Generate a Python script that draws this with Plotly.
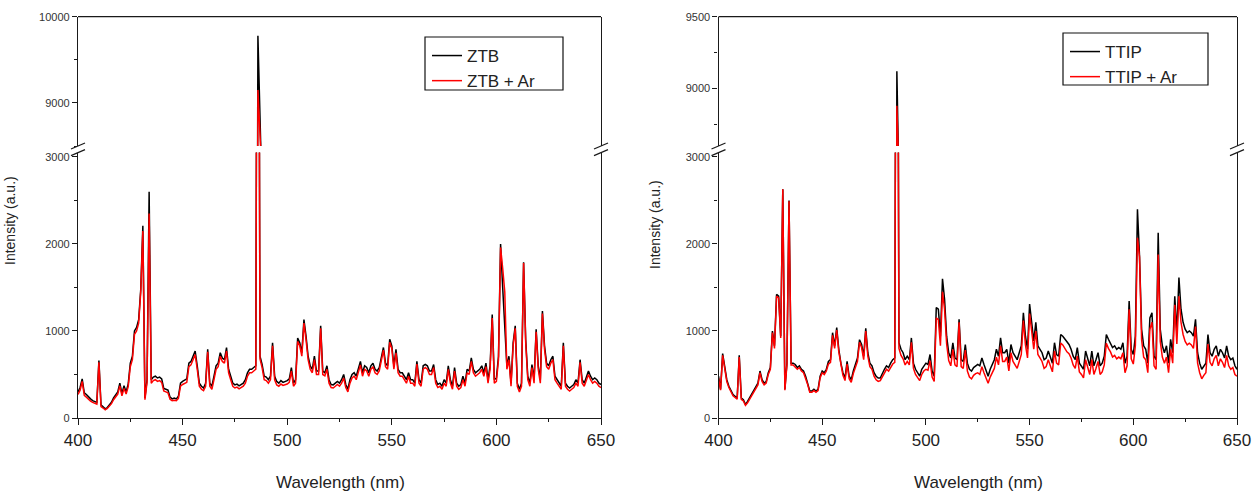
import plotly.graph_objects as go

W, H = 1257, 496


def px(x):
    return x / W


def py(y):
    return 1 - y / H


# ---------------- data ----------------
wavelength = list(range(400, 651))

ztb = [
    300, 350, 450, 290, 270, 240, 220, 200, 190, 180,
    660, 150, 130, 105, 120, 150, 180, 230, 260, 300,
    400, 280, 370, 300, 390, 630, 710, 1000, 1040, 1130,
    1480, 2210, 230, 440, 2600, 440, 470, 480, 460, 470,
    450, 340, 330, 320, 240, 220, 230, 220, 250, 400,
    420, 440, 450, 630, 650, 710, 770, 600, 400, 365,
    345, 400, 790, 400, 365, 480, 600, 630, 750, 690,
    670, 810, 560, 480, 400, 380, 390, 370, 390, 400,
    440, 520, 560, 560, 580, 600, 9780, 710, 615, 480,
    470, 440, 480, 865, 480, 420, 400, 430, 410, 420,
    430, 450, 580, 400, 440, 920, 865, 750, 1130, 940,
    710, 600, 560, 710, 540, 540, 1060, 540, 520, 600,
    440, 385, 380, 400, 420, 400, 440, 500, 385, 330,
    440, 500, 520, 480, 560, 650, 520, 600, 580, 520,
    600, 630, 560, 540, 580, 710, 810, 630, 600, 905,
    830, 600, 790, 560, 520, 520, 480, 440, 520, 440,
    440, 400, 650, 440, 400, 600, 615, 600, 540, 540,
    615, 440, 385, 400, 365, 440, 400, 600, 440, 365,
    580, 400, 365, 385, 480, 400, 560, 540, 690, 560,
    520, 540, 560, 600, 520, 630, 440, 600, 1190, 440,
    460, 710, 2000, 1500, 1000, 600, 710, 400, 865, 1060,
    400, 330, 400, 1790, 900, 480, 400, 615, 440, 1020,
    600, 440, 1230, 830, 630, 600, 670, 710, 480, 440,
    400, 365, 865, 400, 365, 345, 365, 385, 440, 400,
    670, 440, 400, 480, 540, 480, 440, 460, 440, 400,
    385,
]

ztb_ar = [
    270, 320, 420, 260, 240, 215, 195, 180, 170, 160,
    640, 130, 115, 95, 110, 135, 165, 210, 240, 275,
    370, 255, 340, 275, 360, 590, 670, 960, 1000, 1090,
    1450, 2150, 210, 410, 2350, 400, 430, 440, 420, 430,
    410, 310, 300, 290, 215, 200, 205, 200, 225, 365,
    385, 400, 410, 590, 610, 670, 730, 560, 365, 330,
    315, 365, 760, 365, 330, 440, 560, 590, 710, 650,
    630, 770, 520, 440, 365, 345, 355, 335, 355, 365,
    400, 480, 520, 520, 540, 560, 9150, 680, 580, 440,
    430, 400, 440, 830, 440, 380, 365, 390, 375, 385,
    390, 410, 540, 365, 400, 880, 830, 710, 1090, 900,
    670, 560, 520, 670, 500, 500, 1030, 500, 485, 560,
    400, 350, 345, 365, 385, 365, 400, 460, 350, 300,
    400, 460, 480, 440, 520, 610, 480, 560, 540, 480,
    560, 590, 520, 500, 540, 670, 780, 590, 560, 870,
    800, 560, 750, 520, 480, 480, 440, 400, 480, 400,
    400, 365, 620, 400, 365, 560, 580, 560, 500, 500,
    580, 400, 350, 365, 330, 400, 365, 560, 400, 330,
    540, 365, 330, 350, 440, 365, 520, 500, 650, 520,
    480, 500, 520, 560, 480, 590, 400, 560, 1150, 400,
    420, 670, 1960, 1720, 1450, 560, 670, 365, 830, 1030,
    365, 300, 365, 1780, 870, 440, 365, 580, 400, 990,
    560, 400, 1200, 790, 590, 560, 630, 670, 440, 400,
    365, 330, 830, 365, 330, 310, 330, 350, 400, 365,
    640, 400, 365, 440, 500, 440, 400, 420, 400, 365,
    350,
]

ttip = [
    480, 330, 740, 600, 440, 365, 310, 270, 250, 230,
    720, 230, 210, 155, 190, 230, 270, 310, 365, 400,
    540, 440, 400, 420, 520, 580, 1000, 830, 1420, 1400,
    940, 2630, 330, 630, 2500, 630, 630, 615, 580, 600,
    560, 540, 480, 400, 310, 310, 330, 310, 330, 480,
    540, 520, 560, 650, 670, 980, 830, 1040, 790, 630,
    520, 460, 650, 480, 440, 540, 615, 690, 900, 845,
    710, 1030, 750, 630, 600, 520, 480, 460, 460, 520,
    560, 600, 580, 630, 670, 690, 9120, 865, 790, 750,
    670, 710, 670, 920, 630, 560, 520, 480, 560, 600,
    630, 615, 730, 540, 480, 1270, 1250, 940, 1600, 1365,
    940, 750, 690, 865, 690, 670, 1135, 670, 650, 845,
    630, 560, 540, 580, 600, 615, 600, 690, 615, 540,
    480, 560, 615, 670, 790, 710, 920, 750, 750, 790,
    630, 845, 750, 710, 670, 750, 830, 1210, 940, 790,
    1310, 1100, 885, 1100, 830, 790, 750, 670, 690, 770,
    710, 630, 865, 730, 710, 960, 940, 905, 865, 845,
    790, 710, 670, 810, 630, 600, 560, 770, 670, 600,
    770, 600, 670, 750, 600, 630, 710, 960, 905, 865,
    810, 830, 790, 810, 790, 865, 630, 710, 1345, 790,
    730, 940, 2400, 1860, 1020, 830, 790, 630, 1150, 1210,
    710, 670, 2130, 1020, 830, 750, 830, 630, 905, 750,
    1400, 980, 1615, 1250, 1100, 1020, 980, 1000, 980, 940,
    1135, 750, 630, 560, 600, 630, 960, 750, 710, 790,
    830, 710, 790, 750, 690, 830, 710, 670, 690, 600,
    560,
]

ttip_ar = [
    460, 320, 720, 580, 420, 350, 295, 255, 235, 215,
    700, 215, 195, 145, 175, 215, 255, 295, 345, 380,
    520, 420, 380, 400, 500, 560, 980, 800, 1400, 1380,
    920, 2630, 320, 610, 2490, 610, 610, 590, 560, 580,
    540, 520, 460, 385, 295, 295, 315, 295, 315, 460,
    520, 500, 540, 620, 640, 950, 800, 1010, 760, 600,
    490, 430, 620, 450, 410, 510, 580, 650, 870, 810,
    670, 1000, 710, 590, 560, 480, 440, 420, 430, 480,
    520, 560, 540, 580, 620, 640, 8880, 800, 720, 680,
    610, 650, 610, 870, 570, 500, 460, 430, 500, 540,
    560, 550, 660, 470, 420, 1150, 1130, 830, 1450, 1250,
    850, 660, 600, 790, 610, 590, 1100, 590, 570, 780,
    540, 470, 450, 490, 510, 520, 500, 590, 520, 450,
    400, 470, 520, 570, 700, 610, 830, 650, 650, 700,
    540, 750, 650, 610, 570, 650, 730, 1120, 840, 690,
    1200, 1000, 790, 1000, 730, 690, 650, 570, 590, 670,
    610, 530, 770, 630, 610, 860, 840, 800, 760, 740,
    690, 610, 570, 710, 530, 500, 460, 670, 570, 500,
    670, 500, 570, 650, 500, 530, 610, 860, 800, 760,
    700, 720, 680, 700, 680, 750, 520, 600, 1250, 680,
    620, 830, 2070, 1850, 900, 700, 670, 520, 1020, 1100,
    600, 560, 1880, 880, 700, 630, 700, 520, 790, 630,
    1300, 850, 1400, 1100, 960, 880, 840, 860, 840, 800,
    1050, 630, 520, 450, 490, 520, 850, 640, 600, 680,
    720, 600, 680, 640, 580, 720, 600, 560, 580, 500,
    480,
]

x_ticks = [400, 450, 500, 550, 600, 650]
lower_range = [0, 3050]
left_upper_range = [8500, 10000]
right_upper_range = [8600, 9500]

# ---------------- layout geometry ----------------
FONT = "Liberation Sans, Arial, sans-serif"
AX = "#1a1a1a"
LEFT_X = (78, 601)
RIGHT_X = (718.5, 1237)
TOP_Y = 16.7
UPPER_BOTTOM = 146.0
LOWER_TOP = 152.6
BOTTOM_Y = 418.0
LW = 1.5

fig = go.Figure()

panels = [
    dict(xl="x", yl="y", xu="x2", yu="y2", legend="legend",
         series=[("ZTB", ztb, "#000000"), ("ZTB + Ar", ztb_ar, "#ff0000")]),
    dict(xl="x3", yl="y3", xu="x4", yu="y4", legend="legend2",
         series=[("TTIP", ttip, "#000000"), ("TTIP + Ar", ttip_ar, "#ff0000")]),
]

for p in panels:
    for name, vals, col in p["series"]:
        fig.add_trace(go.Scatter(
            x=wavelength, y=vals, mode="lines", name=name,
            line=dict(color=col, width=LW),
            xaxis=p["xl"], yaxis=p["yl"], legend=p["legend"], showlegend=True))
        fig.add_trace(go.Scatter(
            x=wavelength, y=vals, mode="lines", name=name,
            line=dict(color=col, width=LW),
            xaxis=p["xu"], yaxis=p["yu"], legend=p["legend"], showlegend=False))


def xaxis_cfg(dom, anchor, visible=True):
    d = dict(domain=dom, anchor=anchor, range=[400, 650], showgrid=False,
             zeroline=False, automargin=False)
    if not visible:
        d.update(visible=False)
        return d
    d.update(showline=True, linecolor=AX, linewidth=1.3,
             ticks="outside", ticklen=6, tickwidth=1.2, tickcolor=AX,
             tickvals=x_ticks, ticktext=[str(v) for v in x_ticks],
             minor=dict(dtick=25, tick0=400, ticks="outside", ticklen=3,
                        tickcolor=AX, tickwidth=1.2),
             tickfont=dict(family=FONT, size=17, color="#222"))
    return d


def yaxis_cfg(dom, anchor, rng, dtick, minor):
    return dict(domain=dom, anchor=anchor, range=rng, showgrid=False,
                zeroline=False, showline=True, mirror=True, linecolor=AX,
                linewidth=1.3, ticks="outside", ticklen=5, tickwidth=1.2,
                tickcolor=AX, dtick=dtick, tick0=0, tickformat="d",
                automargin=False,
                minor=dict(dtick=minor, tick0=0, ticks="outside", ticklen=3,
                           tickcolor=AX, tickwidth=1.2),
                tickfont=dict(family=FONT, size=11, color="#333"))


ldom = [px(LEFT_X[0]), px(LEFT_X[1])]
rdom = [px(RIGHT_X[0]), px(RIGHT_X[1])]
lower_dom = [py(BOTTOM_Y), py(LOWER_TOP)]
upper_dom = [py(UPPER_BOTTOM), py(TOP_Y)]

LEG_L = (425, 37, 563, 90)
LEG_R = (1063, 33, 1208, 85)

fig.update_layout(
    width=W, height=H, autosize=False,
    margin=dict(l=0, r=0, t=0, b=0, autoexpand=False),
    paper_bgcolor="white", plot_bgcolor="white",
    font=dict(family=FONT, color="#222"),
    xaxis=xaxis_cfg(ldom, "y"),
    xaxis2=xaxis_cfg(ldom, "y2", visible=False),
    xaxis3=xaxis_cfg(rdom, "y3"),
    xaxis4=xaxis_cfg(rdom, "y4", visible=False),
    yaxis=yaxis_cfg(lower_dom, "x", lower_range, 1000, 500),
    yaxis2=yaxis_cfg(upper_dom, "x2", left_upper_range, 1000, 500),
    yaxis3=yaxis_cfg(lower_dom, "x3", lower_range, 1000, 500),
    yaxis4=yaxis_cfg(upper_dom, "x4", right_upper_range, 500, 250),
    legend=dict(x=px(LEG_L[0] + 2), y=py(LEG_L[1] + 1), xanchor="left",
                yanchor="top", borderwidth=0, bgcolor="rgba(0,0,0,0)",
                font=dict(family=FONT, size=17, color="#222"),
                tracegroupgap=0, itemwidth=30),
    legend2=dict(x=px(LEG_R[0] + 2), y=py(LEG_R[1] + 1), xanchor="left",
                 yanchor="top", borderwidth=0, bgcolor="rgba(0,0,0,0)",
                 font=dict(family=FONT, size=17, color="#222"),
                 tracegroupgap=0, itemwidth=30),
    showlegend=True,
)

shapes = []
# legend boxes
for (x0, y0, x1, y1) in (LEG_L, LEG_R):
    shapes.append(dict(type="rect", xref="paper", yref="paper",
                       x0=px(x0), x1=px(x1), y0=py(y1), y1=py(y0),
                       line=dict(color="#111", width=1.2),
                       fillcolor="white", layer="above"))
# top frame lines
for x0, x1 in (LEFT_X, RIGHT_X):
    shapes.append(dict(type="line", xref="paper", yref="paper",
                       x0=px(x0), x1=px(x1), y0=py(TOP_Y), y1=py(TOP_Y),
                       line=dict(color=AX, width=1.3)))
# axis break marks
for ax_x in (LEFT_X[0], LEFT_X[1], RIGHT_X[0], RIGHT_X[1]):
    for yc in (UPPER_BOTTOM, LOWER_TOP):
        shapes.append(dict(type="line", xref="paper", yref="paper",
                           x0=px(ax_x - 7), x1=px(ax_x + 7),
                           y0=py(yc + 3), y1=py(yc - 3),
                           line=dict(color=AX, width=1.2)))
fig.update_layout(shapes=shapes)

annotations = [
    dict(text="Intensity (a.u.)", textangle=-90, x=px(10), y=py(221),
         xref="paper", yref="paper", showarrow=False,
         font=dict(family=FONT, size=14, color="#222"),
         xanchor="center", yanchor="middle"),
    dict(text="Intensity (a.u.)", textangle=-90, x=px(655), y=py(225),
         xref="paper", yref="paper", showarrow=False,
         font=dict(family=FONT, size=14, color="#222"),
         xanchor="center", yanchor="middle"),
    dict(text="Wavelength (nm)", x=px(340), y=py(482), xref="paper",
         yref="paper", showarrow=False,
         font=dict(family=FONT, size=17, color="#222"),
         xanchor="center", yanchor="middle"),
    dict(text="Wavelength (nm)", x=px(978), y=py(482), xref="paper",
         yref="paper", showarrow=False,
         font=dict(family=FONT, size=17, color="#222"),
         xanchor="center", yanchor="middle"),
]
fig.update_layout(annotations=annotations)

fig.write_html("out.html")
